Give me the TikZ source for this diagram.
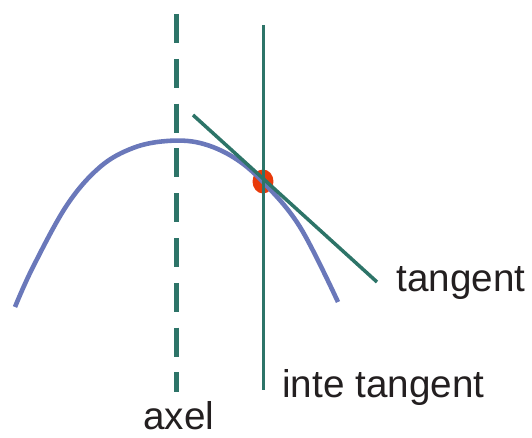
\documentclass[tikz,border=0pt]{standalone}
\usepackage{fontspec}
\setmainfont{Liberation Sans}
\usepackage{tikz}
\usetikzlibrary{positioning,shapes.geometric}
\definecolor{teal}{HTML}{2D7468}
\definecolor{curveblue}{HTML}{6A78BA}
\definecolor{dotred}{HTML}{E83A0A}
\definecolor{ink}{HTML}{231F20}

\begin{document}
\begin{tikzpicture}[x=0.02cm,y=-0.02cm,
  lbl/.style={anchor=base west,inner sep=0pt,text=ink,font=\fontsize{22}{26}\selectfont},
  axisline/.style={draw=teal,line width=2.4pt,dash pattern=on 16.5 off 9},
  tline/.style={draw=teal,line width=2pt}]
  \useasboundingbox (0,0) rectangle (532,438);
  % point of contact
  \node[fill=dotred,ellipse,minimum width=0.42cm,minimum height=0.48cm,inner sep=0pt] (pt) at (263,181.5) {};
  % the curve
  \draw[curveblue,line width=2.6pt] plot[smooth,tension=0.6] coordinates
    {(15,307) (33,267) (67,205) (100,167) (133,148) (167,141) (200,143) (233,157) (263,182) (300,227) (338,302)};
  \coordinate (axtop) at (176.5,14);
  \coordinate (axbot) at (176.5,392);
  \coordinate (vtop) at (263.5,25);
  \coordinate (vbot) at (263.5,390);
  \coordinate (ttop) at (193,115);
  \coordinate (tbot) at (377,282);
  \draw[axisline] (axtop) -- (axbot);
  \draw[tline,line width=1.5pt] (vtop) -- (vbot);
  \draw[tline] (ttop) -- (tbot);
  \node[lbl] (tan) at (396,292) {tangent};
  \node[lbl] (inte) at (282,398) {inte tangent};
  \node[lbl] (axel) at (143,430) {axel};
\end{tikzpicture}
\end{document}
